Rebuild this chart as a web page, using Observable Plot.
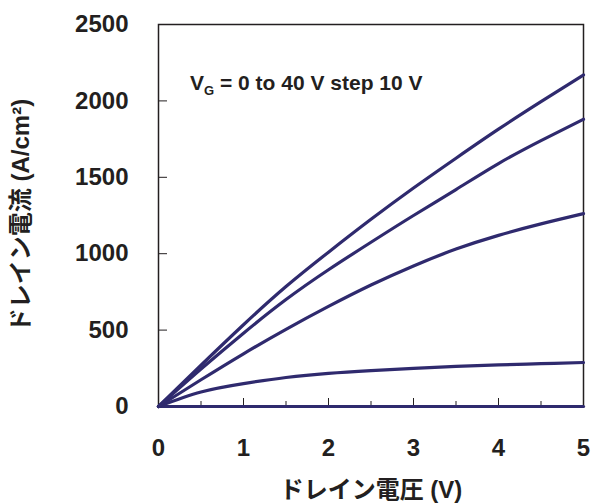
<!DOCTYPE html>
<html>
<head>
<meta charset="utf-8">
<script src="https://cdn.jsdelivr.net/npm/d3@7"></script>
<script src="https://cdn.jsdelivr.net/npm/@observablehq/plot@0.6"></script>
<style>
  html, body { margin: 0; padding: 0; background: #fff; }
  #wrap { position: relative; width: 594px; height: 504px; }
  #note { position: absolute; left: 190px; top: 71px; font: bold 21px "Liberation Sans", Arial, sans-serif; color: #231f20; white-space: nowrap; }
  #note sub { font-size: 13px; vertical-align: -5px; line-height: 0; }
</style>
</head>
<body>
<div id="wrap">
  <div id="chart"></div>
  <div id="note">V<sub>G</sub> = 0 to 40 V step 10 V</div>
</div>
<script>
const vd = [0, 0.5, 1, 1.5, 2, 2.5, 3, 3.5, 4, 4.5, 5];
const vg0  = [0, 0, 0, 0, 0, 0, 0, 0, 0, 0, 0];
const vg10 = [0, 95, 150, 190, 217, 235, 250, 262, 272, 280, 288];
const vg20 = [0, 175, 345, 505, 655, 795, 920, 1030, 1120, 1195, 1262];
const vg30 = [0, 245, 480, 700, 895, 1075, 1250, 1420, 1590, 1740, 1880];
const vg40 = [0, 270, 535, 785, 1010, 1225, 1430, 1625, 1815, 1995, 2170];
const seriesNames = ["0 V", "10 V", "20 V", "30 V", "40 V"];
const seriesVals = [vg0, vg10, vg20, vg30, vg40];
const xTicks = [0, 1, 2, 3, 4, 5];
const xMinor = [0.5, 1.5, 2.5, 3.5, 4.5];
const xMajorInner = [1, 2, 3, 4];
const yTicks = [0, 500, 1000, 1500, 2000, 2500];
const yInner = [500, 1000, 1500, 2000];

const rows = [];
seriesVals.forEach((vals, i) => vals.forEach((v, j) => rows.push({vg: seriesNames[i], x: vd[j], y: v})));

const W = 594, H = 504, ML = 158, MR = 11, MT = 24, MB = 98;
const frameW = W - ML - MR, frameH = H - MT - MB;
const ink = "#231f20", lineColor = "#2f2a6e";
const font = "'Liberation Sans', 'Noto Sans CJK JP', Arial, sans-serif";

const chart = Plot.plot({
  width: W, height: H,
  marginLeft: ML, marginRight: MR, marginTop: MT, marginBottom: MB,
  style: {fontFamily: font, color: ink, background: "#fff"},
  x: {domain: [0, 5]},
  y: {domain: [0, 2500]},
  marks: [
    Plot.axisX({ticks: xTicks, tickSize: 0, tickPadding: 32, tickFormat: d => String(d), fontSize: 24, fontWeight: "bold", fill: ink,
      label: "ドレイン電圧 (V)", labelAnchor: "center", labelArrow: "none", labelOffset: 91}),
    Plot.axisY({ticks: yTicks, tickSize: 0, tickPadding: 30, tickFormat: d => String(d), fontSize: 24, fontWeight: "bold", fill: ink,
      label: "ドレイン電流 (A/cm²)", labelAnchor: "center", labelArrow: "none", labelOffset: 147}),
    Plot.tickY(yInner, {y: d => d, stroke: ink, strokeWidth: 1, insetRight: frameW - 9}),
    Plot.tickX(xMajorInner, {x: d => d, stroke: ink, strokeWidth: 1, insetTop: frameH - 8}),
    Plot.tickX(xMinor, {x: d => d, stroke: ink, strokeWidth: 1, insetTop: frameH - 5}),
    Plot.frame({stroke: ink, strokeWidth: 1.5}),
    Plot.line(rows, {x: "x", y: "y", z: "vg", stroke: lineColor, strokeWidth: 3.2, curve: "natural"})
  ]
});
document.getElementById("chart").appendChild(chart);
</script>
</body>
</html>
